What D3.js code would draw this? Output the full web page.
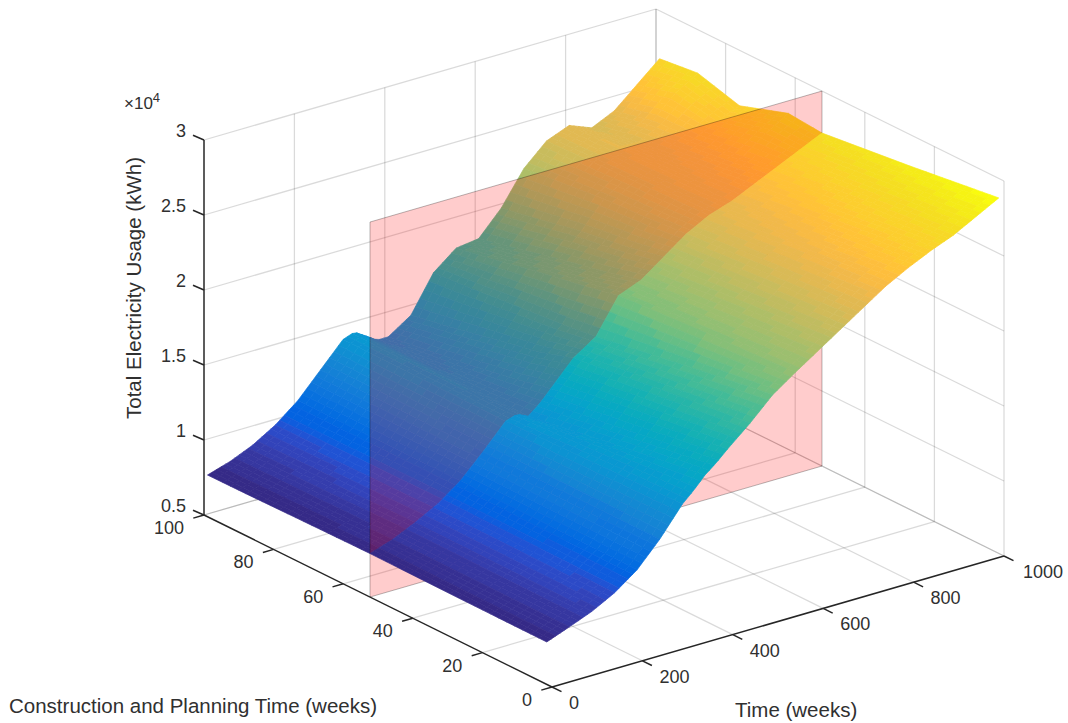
<!DOCTYPE html>
<html><head><meta charset="utf-8">
<script src="https://cdn.jsdelivr.net/npm/d3@7"></script>
<style>html,body{margin:0;padding:0;background:#fff}svg{display:block}text{font-family:"Liberation Sans",Arial,sans-serif;fill:#303030}</style>
</head><body><svg id="chart" width="1068" height="723"></svg>
<script>
// ---- data ----
const timeKnots = [0,50,100,150,200,250,300,325,350,375,400,450,500,550,600,650,700,750,800,850,900,950,1000];
const constructionRows = [1.5,27,52.3,62,76,88,99];
const usageC1  = [7830,8400,9000,9800,10900,12500,14400,15100,15900,16500,17200,18500,19950,21000,22000,23000,24000,25000,25800,26500,27100,27900,28700];
const usageC27 = [7850,8400,9050,9850,10950,12500,14250,14750,15000,15500,16300,17800,19000,20700,21500,22500,23600,24500,25100,25800,26500,27200,27900];
const usageC52 = [7900,8400,9100,9900,11000,12500,14100,14350,14000,14600,15400,17000,18000,20300,20900,22000,23100,23900,24400,25100,25800,26500,27200];
const usageC62 = [7880,8350,9050,9880,11000,12520,14120,14370,14000,14300,14900,16300,17700,19800,20300,21500,22900,23800,24300,24800,25400,26500,27400];
const usageC76 = [7840,8300,9000,9850,11000,12550,14150,14400,14000,14000,14300,15600,17400,19200,19600,21000,22700,23700,24200,24400,25000,25700,26300];
const usageC88 = [7800,8280,8950,9820,11000,12580,14180,14430,14000,13750,13900,15000,17100,18600,18900,20400,22400,23600,24150,24000,24800,26200,27100];
const usageC99 = [7780,8250,8900,9800,11000,12600,14200,14470,14000,13500,13500,14500,16900,18100,18300,19900,22100,23500,24100,23500,24200,25500,26800];
const usageRows = [usageC1,usageC27,usageC52,usageC62,usageC76,usageC88,usageC99];
const planeConstruction = 52.3;
const timeTicks = [0,200,400,600,800,1000];
const constructionTicks = [0,20,40,60,80,100];
const usageTicks = [5000,10000,15000,20000,25000,30000];
const usageTickLabels = ["0.5","1","1.5","2","2.5","3"];
const parula = [[.2081,.1663,.5292],[.2116,.1898,.5777],[.2123,.2138,.6270],[.2081,.2386,.6771],[.1959,.2645,.7279],[.1707,.2919,.7792],[.1253,.3242,.8303],[.0591,.3598,.8683],[.0117,.3875,.8820],[.0060,.4086,.8828],[.0165,.4266,.8786],[.0329,.4430,.8720],[.0498,.4586,.8641],[.0629,.4737,.8554],[.0723,.4887,.8467],[.0779,.5040,.8384],[.0793,.5200,.8312],[.0749,.5375,.8263],[.0641,.5570,.8240],[.0488,.5772,.8228],[.0343,.5966,.8199],[.0265,.6137,.8135],[.0239,.6287,.8038],[.0231,.6418,.7913],[.0228,.6535,.7768],[.0267,.6642,.7607],[.0384,.6743,.7436],[.0590,.6838,.7254],[.0843,.6928,.7062],[.1133,.7015,.6859],[.1453,.7098,.6646],[.1801,.7177,.6424],[.2178,.7250,.6193],[.2586,.7317,.5954],[.3022,.7376,.5712],[.3482,.7424,.5473],[.3953,.7459,.5244],[.4420,.7481,.5033],[.4871,.7491,.4840],[.5300,.7491,.4661],[.5709,.7485,.4494],[.6099,.7473,.4337],[.6473,.7456,.4188],[.6834,.7435,.4044],[.7184,.7411,.3905],[.7525,.7384,.3768],[.7858,.7356,.3633],[.8185,.7327,.3498],[.8507,.7299,.3360],[.8824,.7274,.3217],[.9139,.7258,.3063],[.9450,.7261,.2886],[.9739,.7314,.2666],[.9938,.7455,.2403],[.9990,.7653,.2164],[.9955,.7861,.1967],[.9880,.8066,.1794],[.9789,.8271,.1633],[.9697,.8481,.1475],[.9626,.8705,.1309],[.9589,.8949,.1132],[.9598,.9218,.0948],[.9661,.9514,.0755],[.9763,.9831,.0538]];

// ---- orthographic projection built from linear scales ----
const tx = d3.scaleLinear([0,1000],[0,452]), ty = d3.scaleLinear([0,1000],[0,-131]);
const cx = d3.scaleLinear([0,100],[0,-348]), cy = d3.scaleLinear([0,100],[0,-172]);
const zy = d3.scaleLinear([5000,30000],[0,-375]);
const origin = [552,687];
const P = (t,c,z) => [origin[0]+tx(t)+cx(c), origin[1]+ty(t)+cy(c)+zy(z)];
const svg = d3.select("#chart");
const line = d3.line();
const allZ = usageRows.flat();
const color = d3.scaleQuantize().domain(d3.extent(allZ))
  .range(parula.map(c=>d3.rgb(c[0]*255,c[1]*255,c[2]*255).formatHex()));

// ---- grid ----
const gridG = svg.append("g").attr("fill","none").attr("stroke","#262626").attr("stroke-opacity",.17).attr("stroke-width",1.25);
const seg = (g,a,b)=>g.append("path").attr("d",line([a,b]));
const zMin=5000, zMax=30000;
timeTicks.forEach(t=>{ if(t>0) seg(gridG,P(t,0,zMin),P(t,100,zMin)); if(t>0) seg(gridG,P(t,100,zMin),P(t,100,zMax)); });
constructionTicks.forEach(c=>{ if(c>0) seg(gridG,P(0,c,zMin),P(1000,c,zMin)); seg(gridG,P(1000,c,zMin),P(1000,c,zMax)); });
usageTicks.forEach(z=>{ seg(gridG,P(0,100,z),P(1000,100,z)); seg(gridG,P(1000,100,z),P(1000,0,z)); });

// ---- surface cells ----
const rowScales = usageRows.map(r=>d3.scaleLinear(timeKnots,r));
const zAt = (t,c)=> d3.scaleLinear(constructionRows,rowScales.map(s=>s(t)))(c);
const tGrid = d3.range(0,1000,10).concat([1000]);
let cGrid = [];
for(let i=0;i<constructionRows.length-1;i++){
  const a=constructionRows[i], b=constructionRows[i+1], n=Math.max(2,Math.round((b-a)/2.4));
  for(let k=0;k<n;k++) cGrid.push(a+(b-a)*k/n);
}
cGrid.push(99);
const cells=[];
for(let j=0;j<cGrid.length-1;j++) for(let i=0;i<tGrid.length-1;i++){
  const t0=tGrid[i],t1=tGrid[i+1],c0=cGrid[j],c1=cGrid[j+1];
  const z=[zAt(t0,c0),zAt(t1,c0),zAt(t1,c1),zAt(t0,c1)];
  cells.push({t:t0,c:c0,rear:c0>=planeConstruction-1e-6,
    pts:[P(t0,c0,z[0]),P(t1,c0,z[1]),P(t1,c1,z[2]),P(t0,c1,z[3])],z:d3.mean(z)});
}
cells.sort((a,b)=>d3.descending(a.c,b.c)||d3.descending(a.t,b.t));
const drawCells=(g,list)=>g.selectAll("path").data(list).join("path")
  .attr("d",d=>line(d.pts)+"Z").attr("fill",d=>color(d.z)).attr("stroke",d=>color(d.z)).attr("stroke-width",.7);
drawCells(svg.append("g"),cells.filter(d=>d.rear));
// ---- translucent plane ----
svg.append("path").attr("d",line([P(0,planeConstruction,zMin),P(1000,planeConstruction,zMin),P(1000,planeConstruction,zMax),P(0,planeConstruction,zMax)])+"Z")
  .attr("fill","#ff0000").attr("fill-opacity",.2).attr("stroke","#000").attr("stroke-opacity",.28).attr("stroke-width",1);
drawCells(svg.append("g"),cells.filter(d=>!d.rear));

// ---- axes ----
const axisG = svg.append("g").attr("fill","none").attr("stroke","#262626").attr("stroke-width",1.5);
seg(axisG,P(0,100,zMin),P(0,100,zMax));
seg(axisG,P(0,0,zMin),P(0,100,zMin));
seg(axisG,P(0,0,zMin),P(1000,0,zMin));
const fs=18;
const label=(x,y,s,anchor,size)=>svg.append("text").attr("x",x).attr("y",y).attr("text-anchor",anchor||"start").attr("font-size",size||fs).text(s);
usageTicks.forEach((z,i)=>{const p=P(0,100,z);seg(axisG,p,[p[0]-11,p[1]-4.7]);label(p[0]-18,p[1]-3.5,usageTickLabels[i],"end");});
constructionTicks.forEach(c=>{const p=P(0,c,zMin);seg(axisG,p,[p[0]-10.7,p[1]+3.1]);label(p[0]-20,p[1]+19,c,"end");});
timeTicks.forEach(t=>{const p=P(t,0,zMin);seg(axisG,p,[p[0]+9.5,p[1]+4.7]);label(p[0]+(t==1000?19:17),p[1]+22,t);});
const mult=label(124,109,"×10",null,17);
mult.append("tspan").attr("dy",-7).attr("font-size",13).text("4");
label(9,713,"Construction and Planning Time (weeks)",null,20.5);
label(735,717,"Time (weeks)",null,20.5);
svg.append("text").attr("transform","translate(141,288) rotate(-90)").attr("text-anchor","middle").attr("font-size",20.5).text("Total Electricity Usage (kWh)");
</script></body></html>
